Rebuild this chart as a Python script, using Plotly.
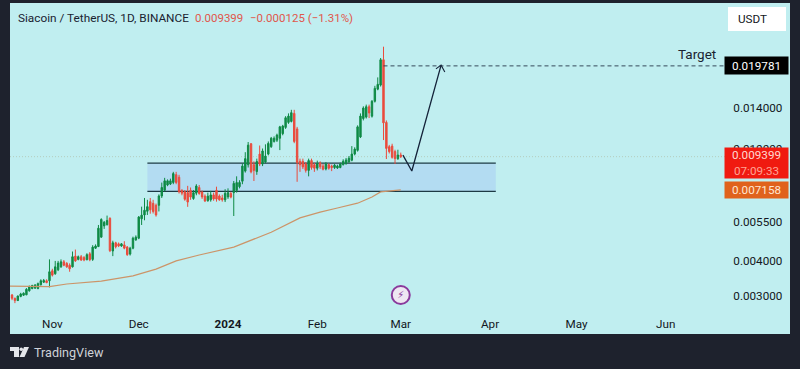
import math
import pandas as pd
import plotly.graph_objects as go

dates = pd.date_range("2023-10-18", periods=136, freq="D")
opens = [.003025,.002945,.00289,.00299,.00302,.00303,.00313,.00319,.00320,.00319,
.00329,.00336,.00340,.00340,.00369,.00360,.00372,.00381,.00397,.00392,
.00386,.00381,.00416,.00405,.00414,.00411,.00404,.00424,.00405,.00444,
.00450,.00486,.00533,.00538,.00567,.00434,.00464,.00460,.00452,.00456,
.00448,.00423,.00444,.00475,.00482,.00565,.00583,.00601,.00650,.00641,
.00631,.00631,.00681,.00714,.00745,.00751,.00761,.00811,.00794,.00713,
.00705,.00700,.00713,.00667,.00697,.00730,.00703,.00680,.00655,.00660,
.00687,.00713,.00681,.00670,.00660,.00676,.00695,.00700,.00713,.00735,
.00769,.00835,.00880,.01045,.00880,.00832,.00960,.00885,.00900,.00960,
.01020,.01065,.01076,.01093,.01135,.01195,.01245,.01255,.01340,.01180,
.00905,.00905,.00885,.00840,.00910,.00880,.00855,.00893,.00870,.00850,
.00880,.00870,.00860,.00857,.00860,.00880,.00888,.00900,.00913,.00960,
.00990,.01105,.01285,.01300,.01415,.01310,.01480,.01635,.01690,.02080,
.01245,.01020,.01025,.00980,.00925,.00953]
highs = [.00305,.00296,.00301,.00308,.00309,.00320,.00327,.00329,.00331,.00335,
.00344,.00345,.00344,.00405,.00375,.00400,.00400,.00405,.00403,.00396,
.00392,.00432,.00439,.00418,.00420,.00416,.00426,.00430,.00455,.00458,
.00537,.00567,.00555,.00580,.00572,.00472,.00468,.00465,.00463,.00470,
.00452,.00449,.00488,.00493,.00578,.00624,.00670,.00660,.00670,.00660,
.00640,.00690,.00760,.00790,.00780,.00785,.00830,.00830,.00810,.00720,
.00715,.00740,.00730,.00715,.00750,.00745,.00712,.00690,.00700,.00710,
.00700,.00735,.00690,.00688,.00720,.00725,.00705,.00770,.00800,.00775,
.00890,.00975,.01060,.01050,.00905,.00925,.01030,.01005,.01040,.01065,
.01105,.01110,.01135,.01210,.01220,.01310,.01340,.01380,.01380,.01200,
.00925,.00925,.00900,.00925,.00925,.00895,.00910,.00905,.00885,.00900,
.00890,.00880,.00885,.00880,.00895,.00920,.00930,.00945,.01025,.01015,
.01215,.01340,.01420,.01440,.01440,.01495,.01680,.01800,.02110,.02315,
.01265,.01035,.01045,.00995,.00995,.00972]
lows = [.00290,.00283,.00288,.00297,.00300,.00302,.00311,.00317,.00318,.00317,
.00327,.00334,.00333,.00322,.00352,.00357,.00368,.00378,.00383,.00378,
.00366,.00379,.00397,.00402,.00400,.00399,.00402,.00399,.00400,.00441,
.00448,.00484,.00520,.00535,.00430,.00416,.00443,.00448,.00449,.00440,
.00417,.00418,.00440,.00472,.00478,.00537,.00558,.00583,.00589,.00590,
.00575,.00600,.00670,.00708,.00738,.00745,.00750,.00750,.00695,.00685,
.00655,.00623,.00660,.00660,.00685,.00688,.00665,.00648,.00650,.00650,
.00655,.00650,.00655,.00650,.00648,.00665,.00668,.00578,.00700,.00725,
.00750,.00825,.00860,.00820,.00770,.00810,.00870,.00870,.00890,.00950,
.01010,.01055,.01060,.00992,.01120,.01180,.01230,.01245,.01050,.00765,
.00830,.00850,.00825,.00800,.00845,.00830,.00840,.00850,.00840,.00840,
.00845,.00835,.00850,.00850,.00855,.00875,.00880,.00895,.00905,.00950,
.00980,.01095,.01265,.01285,.01290,.01295,.01465,.01620,.01670,.01077,
.00922,.00965,.00925,.00885,.00915,.00930]
closes = [.002945,.00289,.00300,.00305,.00307,.00317,.00323,.00327,.00328,.00332,
.00340,.00341,.00335,.00366,.00356,.00381,.00393,.00397,.00386,.00381,
.00375,.00414,.00400,.00414,.00403,.00403,.00421,.00404,.00448,.00452,
.00523,.00562,.00549,.00557,.00435,.00464,.00449,.00452,.00460,.00444,
.00421,.00444,.00482,.00486,.00573,.00582,.00606,.00624,.00608,.00600,
.00583,.00681,.00730,.00771,.00771,.00771,.00818,.00761,.00705,.00697,
.00663,.00648,.00675,.00700,.00739,.00695,.00676,.00654,.00680,.00687,
.00665,.00664,.00660,.00660,.00696,.00700,.00675,.00755,.00760,.00761,
.00870,.00925,.01033,.00830,.00840,.00903,.00885,.00985,.00945,.01048,
.01093,.01093,.01122,.01200,.01208,.01293,.01311,.01348,.01065,.00895,
.00880,.00865,.00840,.00910,.00860,.00855,.00888,.00865,.00848,.00885,
.00855,.00860,.00877,.00870,.00885,.00905,.00915,.00928,.00960,.01000,
.01200,.01311,.01400,.01415,.01345,.01480,.01645,.01700,.02080,.01240,
.01006,.00980,.00935,.00925,.009524,.009399]

ma_dates = ["2023-10-17","2023-10-31","2023-11-06","2023-11-18","2023-11-29","2023-12-07",
            "2023-12-14","2023-12-22","2024-01-03","2024-01-10","2024-01-16","2024-01-26",
            "2024-02-02","2024-02-08","2024-02-15","2024-02-20","2024-02-23","2024-03-01"]
ma_values = [.003255,.00324,.00331,.00339,.00354,.00374,.00400,.00420,.00448,.00477,.00506,
             .00569,.00597,.00617,.00642,.00675,.00704,.007158]

zone_dates = ["2023-12-04","2024-04-03"]
zone_prices = [.00707,.00891]
target_price = .019781
target_start = "2024-02-24"
last_price = .009399
ma_last = .007158
path_dates = ["2024-03-01 18:00","2024-03-04 20:00","2024-03-15"]
path_prices = [.00952,.00836,.0199]
head_dates = ["2024-03-13 05:00","2024-03-15","2024-03-16 07:00"]
head_prices = [.0193,.0199,.0188]
event_date = ["2024-03-01"]
event_price = [.003025]

tick_dates = ["2023-11-01","2023-12-01","2024-01-01","2024-02-01","2024-03-01","2024-04-01","2024-05-01","2024-06-01"]
tick_labels = ["Nov","Dec","<b>2024</b>","Feb","Mar","Apr","May","Jun"]
y_ticks = [.003,.004,.0055,.01,.014]
y_labels = ["0.003000","0.004000","0.005500","0.010000","0.014000"]

DARK = "#1e222d"
BG = "#c0eef0"
TXT = "#131722"
FONT = "Roboto"
W, H = 800, 369
T, B, L, R = 3, 310, 10, 727

def px(x): return (x - L) / (R - L)
def py(y): return (B - y) / (B - T)

fig = go.Figure()
fig.add_trace(go.Candlestick(
    x=dates, open=opens, high=highs, low=lows, close=closes,
    increasing=dict(line=dict(color="#0f8a45", width=1), fillcolor="#0f8a45"),
    decreasing=dict(line=dict(color="#ea4b3c", width=1), fillcolor="#ea4b3c"),
    whiskerwidth=0))
fig.add_trace(go.Scatter(x=ma_dates, y=ma_values, mode="lines",
                         line=dict(color="#cc9468", width=1.2)))
fig.add_trace(go.Scatter(x=path_dates, y=path_prices, mode="lines",
                         line=dict(color="#14233a", width=1.3)))
fig.add_trace(go.Scatter(x=head_dates, y=head_prices, mode="lines",
                         line=dict(color="#14233a", width=1.1)))
fig.add_trace(go.Scatter(x=event_date, y=event_price, mode="markers+text",
                         marker=dict(size=18, color="#eee6f2", line=dict(color="#8a3a9c", width=2)),
                         text=["⚡"], textposition="middle center",
                         textfont=dict(family="DejaVu Sans", size=10, color="#8a3a9c")))

shapes = [
    dict(type="rect", xref="paper", yref="paper", x0=px(10), x1=px(790), y0=py(334), y1=py(3),
         fillcolor=BG, line_width=0, layer="below"),
    dict(type="rect", xref="paper", yref="paper", x0=px(728), x1=px(786), y0=py(31), y1=py(7),
         fillcolor="#ffffff", line_width=0, layer="below"),
    dict(type="rect", xref="x", yref="y", x0=zone_dates[0], x1=zone_dates[1],
         y0=zone_prices[0], y1=zone_prices[1], fillcolor="#b3dcf2", line_width=0, layer="below"),
    dict(type="line", xref="x", yref="y", x0=zone_dates[0], x1=zone_dates[1],
         y0=zone_prices[0], y1=zone_prices[0], line=dict(color="#1d3a44", width=1.2), layer="below"),
    dict(type="line", xref="x", yref="y", x0=zone_dates[0], x1=zone_dates[1],
         y0=zone_prices[1], y1=zone_prices[1], line=dict(color="#1d3a44", width=1.2), layer="below"),
    dict(type="line", xref="paper", yref="y", x0=0, x1=1, y0=last_price, y1=last_price,
         line=dict(color="#b4cdbd", width=1, dash="1px,2px"), layer="below"),
    dict(type="line", xref="x", yref="y", x0=target_start, x1="2024-06-22", y0=target_price, y1=target_price,
         line=dict(color="#27374a", width=0.9, dash="4px,3px")),
    # TradingView mark
    dict(type="path", xref="paper", yref="paper", fillcolor="#e4e6ea", line_width=0,
         path=f"M {px(10)},{py(347)} L {px(19)},{py(347)} L {px(19)},{py(357)} L {px(14)},{py(357)} L {px(14)},{py(351)} L {px(10)},{py(351)} Z"),
    dict(type="circle", xref="paper", yref="paper", fillcolor="#e4e6ea", line_width=0,
         x0=px(19.5), x1=px(23), y0=py(351), y1=py(347.5)),
    dict(type="path", xref="paper", yref="paper", fillcolor="#e4e6ea", line_width=0,
         path=f"M {px(24)},{py(347)} L {px(29)},{py(347)} L {px(24.5)},{py(357)} L {px(19.5)},{py(357)} Z"),
]

def box(text, y0, y1, fill, color="#ffffff", size=11.7):
    return dict(text=text, xref="paper", yref="paper", x=px(724), xanchor="left",
                y=py((y0 + y1) / 2), yanchor="middle", showarrow=False,
                width=63, height=y1 - y0, borderpad=0, bgcolor=fill, align="center",
                font=dict(family=FONT, size=size, color=color))

annotations = [
    box("0.019781", 57, 74, "#000000"),
    box('0.009399<br><span style="color:#ffa394">07:09:33</span>', 148, 178, "#f01a10", "#ffd8cf"),
    box("0.007158", 182, 198, "#e0621c", "#ffe6d2"),
    dict(text="USDT", xref="paper", yref="paper", x=px(737), xanchor="left", y=py(19), yanchor="middle",
         showarrow=False, borderpad=0, font=dict(family=FONT, size=11.7, color=TXT)),
    dict(text="Target", xref="paper", yref="paper", x=px(716.5), xanchor="right", y=py(54), yanchor="middle",
         showarrow=False, font=dict(family=FONT, size=13.5, color="#1a2230"), borderpad=0),
    dict(text="Siacoin / TetherUS, 1D, BINANCE", xref="paper", yref="paper", x=px(17), xanchor="left",
         y=py(17.5), yanchor="middle", showarrow=False, borderpad=0, font=dict(family=FONT, size=11.8, color="#1a2230")),
    dict(text="0.009399", xref="paper", yref="paper", x=px(194), xanchor="left",
         y=py(17.5), yanchor="middle", showarrow=False, borderpad=0, font=dict(family=FONT, size=11.5, color="#e0574c")),
    dict(text="−0.000125 (−1.31%)", xref="paper", yref="paper", x=px(249), xanchor="left",
         y=py(17.5), yanchor="middle", showarrow=False, borderpad=0, font=dict(family=FONT, size=11.5, color="#e0574c")),
    dict(text="TradingView", xref="paper", yref="paper", x=px(33), xanchor="left",
         y=py(352), yanchor="middle", showarrow=False, borderpad=0, font=dict(family=FONT, size=12.6, color="#cfd2d8")),
]

fig.update_layout(
    width=W, height=H, autosize=False,
    margin=dict(l=L, r=W - R, t=T, b=H - B, pad=0),
    paper_bgcolor=DARK, plot_bgcolor="rgba(0,0,0,0)",
    showlegend=False, hovermode=False,
    shapes=shapes, annotations=annotations,
    font=dict(family=FONT, size=11.7, color=TXT),
    xaxis=dict(type="date", range=["2023-10-17 07:00", "2024-06-22 07:00"], showgrid=False, zeroline=False,
               rangeslider=dict(visible=False), tickmode="array", tickvals=tick_dates, ticktext=tick_labels,
               ticks="outside", ticklen=3, tickcolor="rgba(0,0,0,0)", showline=False,
               tickfont=dict(family=FONT, size=11.7, color=TXT)),
    yaxis=dict(type="log", side="right", range=[math.log10(.002675), math.log10(.03312)],
               showgrid=False, zeroline=False, showline=False, tickmode="array",
               tickvals=y_ticks, ticktext=y_labels, ticks="outside", ticklen=3, tickcolor="rgba(0,0,0,0)",
               tickfont=dict(family=FONT, size=11.7, color=TXT)),
)
fig.write_html("out.html", config={"displayModeBar": False},
               post_script="document.body.style.margin='0';document.body.style.overflow='hidden';")
